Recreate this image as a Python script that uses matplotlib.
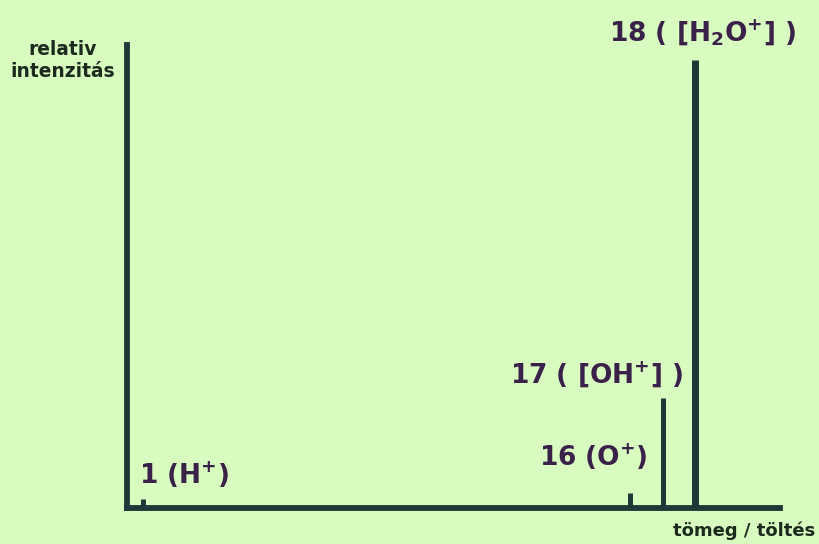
import matplotlib
matplotlib.use("Agg")
import matplotlib.pyplot as plt

plt.rcParams['font.family'] = ['DejaVu Sans']
plt.rcParams['mathtext.fontset'] = 'dejavusans'
plt.rcParams['mathtext.default'] = 'regular'

# data
masses = [1, 16, 17, 18]
intensities = [2, 3.3, 24.5, 100]
labels = ["1 (H$^{+}$)", "16 (O$^{+}$)", "17 ( [OH$^{+}$] )", "18 ( [H$_{2}$O$^{+}$] )"]
ylabel_text = "relativ\nintenzitás"
xlabel_text = "tömeg / töltés"

# label offsets (pixels) from the top of each peak
label_offsets = [(-4, 15), (-91, 27), (-153, 15), (-86, 19)]
bar_widths_px = [5, 5, 5, 7]

bg = '#d8fbbf'
line_c = '#1b3936'
text_c = '#3a2149'
axis_txt_c = '#1c2a1e'

fig = plt.figure(figsize=(8.2, 5.44), dpi=100, facecolor=bg)
ax = fig.add_axes([127/820, 36/544, (780-127)/820, (508-38)/544])
ax.set_facecolor(bg)
ax.set_xlim(0.51, 20.6)
ax.set_ylim(0, 105)

for m, v, w in zip(masses, intensities, bar_widths_px):
    ax.vlines(m, 0, v, color=line_c, lw=w*0.72, capstyle='butt')

for m, v, s, (dx, dy) in zip(masses, intensities, labels, label_offsets):
    ax.annotate(s, xy=(m, v), xytext=(dx, dy), textcoords='offset pixels',
                ha='left', va='baseline', fontsize=19, fontweight='bold', color=text_c)

for side in ['top', 'right']:
    ax.spines[side].set_visible(False)
for side in ['left', 'bottom']:
    ax.spines[side].set_color(line_c)
    ax.spines[side].set_linewidth(4.2)
ax.spines['left'].set_bounds(0, 103.5)
ax.set_xticks([])
ax.set_yticks([])

fig.text(63/820, 1 - 40/544, ylabel_text, ha='center', va='top',
         fontsize=13.4, fontweight='bold', color=axis_txt_c, linespacing=1.2)
fig.text(744/820, 1 - 536/544, xlabel_text, ha='center', va='baseline',
         fontsize=13.0, fontweight='bold', color=axis_txt_c)

fig.savefig('out.png', dpi=100, facecolor=bg)
